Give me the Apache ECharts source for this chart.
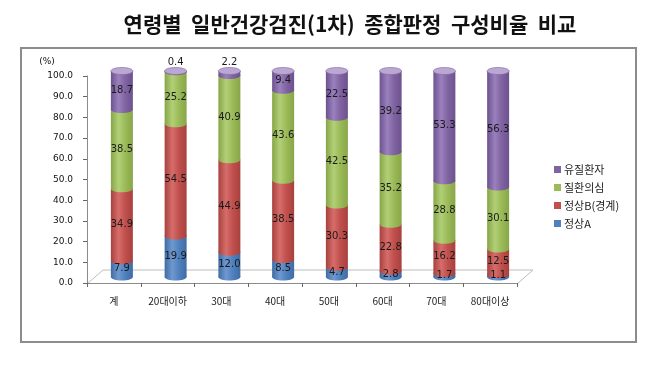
<!DOCTYPE html>
<html><head><meta charset="utf-8">
<script src="https://cdn.jsdelivr.net/npm/echarts@6/dist/echarts.min.js"></script>
<style>html,body{margin:0;padding:0;background:#fff}#c{width:663px;height:369px}</style>
</head><body><div id="c"></div>
<script>
const titleText = '연령별  일반건강검진(1차)  종합판정  구성비율  비교';
const categories = ['계','20대이하','30대','40대','50대','60대','70대','80대이상'];
const normalA = [7.9, 19.9, 12.0, 8.5, 4.7, 2.8, 1.7, 1.1];
const normalB = [34.9, 54.5, 44.9, 38.5, 30.3, 22.8, 16.2, 12.5];
const suspect = [38.5, 25.2, 40.9, 43.6, 42.5, 35.2, 28.8, 30.1];
const disease = [18.7, 0.4, 2.2, 9.4, 22.5, 39.2, 53.3, 56.3];
const seriesNames = ['정상A', '정상B(경계)', '질환의심', '유질환자'];
const yTicks = [0,10,20,30,40,50,60,70,80,90,100];

const palette = [
  {base:'#4F81BD', dark:'#3F6CA5', light:'#6F98CF', cap:'#9DBBE3'},
  {base:'#C0504D', dark:'#A8413E', light:'#D66D6A', cap:'#E5A09E'},
  {base:'#9BBB59', dark:'#86A648', light:'#B2CF76', cap:'#CFE2A8'},
  {base:'#8064A2', dark:'#6C528E', light:'#9A80BC', cap:'#BBA8D2'}
];
const allSeries = [normalA, normalB, suspect, disease];

function grad(c){
  return new echarts.graphic.LinearGradient(0,0,1,0,[
    {offset:0,color:c.dark},{offset:0.35,color:c.light},{offset:0.65,color:c.base},{offset:1,color:c.dark}
  ]);
}

const bases = categories.map(()=>0);
const series = allSeries.map((vals, si) => {
  const data = vals.map((v,i)=>{ const b = bases[i]; bases[i] += v; return [i, b, b+v, v]; });
  const isTop = si === allSeries.length-1;
  const c = palette[si];
  return {
    name: seriesNames[si], type:'custom', xAxisIndex:1, yAxisIndex:1,
    itemStyle:{color:c.base}, silent:true,
    data: data,
    encode:{x:0, y:[1,2]},
    renderItem(params, api){
      const i = api.value(0), b = api.value(1), t = api.value(2), v = api.value(3);
      const p0 = api.coord([i,b]), p1 = api.coord([i,t]);
      const w = 22, rx = w/2, ry = 3.5;
      const children = [
        {type:'ellipse', shape:{cx:p0[0], cy:p0[1], rx:rx, ry:ry}, style:{fill:grad(c)}},
        {type:'rect', shape:{x:p0[0]-rx, y:p1[1], width:w, height:p0[1]-p1[1]}, style:{fill:grad(c)}}
      ];
      if (isTop) {
        children.push({type:'ellipse', shape:{cx:p1[0], cy:p1[1], rx:rx, ry:ry}, style:{fill:c.cap, stroke:c.base, lineWidth:0.6}});
      }
      let ly = (p0[1]+p1[1])/2;
      if (isTop && v < 3) ly = p1[1] - 9;
      children.push({type:'text', z2:100, style:{
        text: v.toFixed(1), x:p0[0], y:ly, align:'center', verticalAlign:'middle',
        fill:'#1a1a1a', font:'10px "DejaVu Sans"'
      }});
      return {type:'group', children};
    }
  };
});

const chart = echarts.init(document.getElementById('c'));
chart.setOption({
  animation:false,
  backgroundColor:'#fff',
  title:{text:titleText, left:345, textAlign:'center', top:9,
    textStyle:{fontFamily:'"Noto Sans CJK KR"', fontSize:21, fontWeight:'bold', color:'#111'}},
  legend:{
    orient:'vertical', left:549, top:159, itemWidth:7, itemHeight:7, itemGap:7, icon:'rect',
    data:[seriesNames[3], seriesNames[2], seriesNames[1], seriesNames[0]],
    textStyle:{fontFamily:'"Noto Sans CJK KR"', fontSize:11, color:'#222', padding:[0,0,0,-2]}
  },
  grid:[
    {left:87, right:146, top:76, bottom:86},
    {left:95, right:138, top:71, bottom:92}
  ],
  xAxis:[
    {type:'category', gridIndex:0, data:categories, boundaryGap:true,
      axisLine:{lineStyle:{color:'#8c8c8c', width:1}},
      axisTick:{show:true, length:4, lineStyle:{color:'#666'}},
      axisLabel:{margin:13, fontFamily:'"Noto Sans CJK KR"', fontSize:10, color:'#222'}},
    {type:'category', gridIndex:1, data:categories, show:false}
  ],
  yAxis:[
    {type:'value', gridIndex:0, min:yTicks[0], max:yTicks[yTicks.length-1], interval:10,
      axisLine:{show:true, lineStyle:{color:'#8c8c8c'}},
      axisTick:{show:true, length:4, lineStyle:{color:'#666'}},
      splitLine:{show:false},
      axisLabel:{margin:14, formatter:v=>v.toFixed(1), fontFamily:'"DejaVu Sans"', fontSize:9, color:'#111'},
      name:'(%)', nameLocation:'end', nameGap:10,
      nameTextStyle:{fontFamily:'"DejaVu Sans"', fontSize:9, color:'#111', align:'center', padding:[0,0,0,-80]}},
    {type:'value', gridIndex:1, min:0, max:100, show:false}
  ],
  graphic:[
    {type:'rect', shape:{x:21, y:48, width:615, height:294}, style:{fill:'none', stroke:'#8c8c8c', lineWidth:2}, z:-1},
    {type:'polyline', shape:{points:[[87,284],[103,270],[533,270],[517,284]]}, style:{stroke:'#bdbdbd', lineWidth:1, fill:'none'}, z:-1}
  ],
  series: series
});
</script></body></html>
